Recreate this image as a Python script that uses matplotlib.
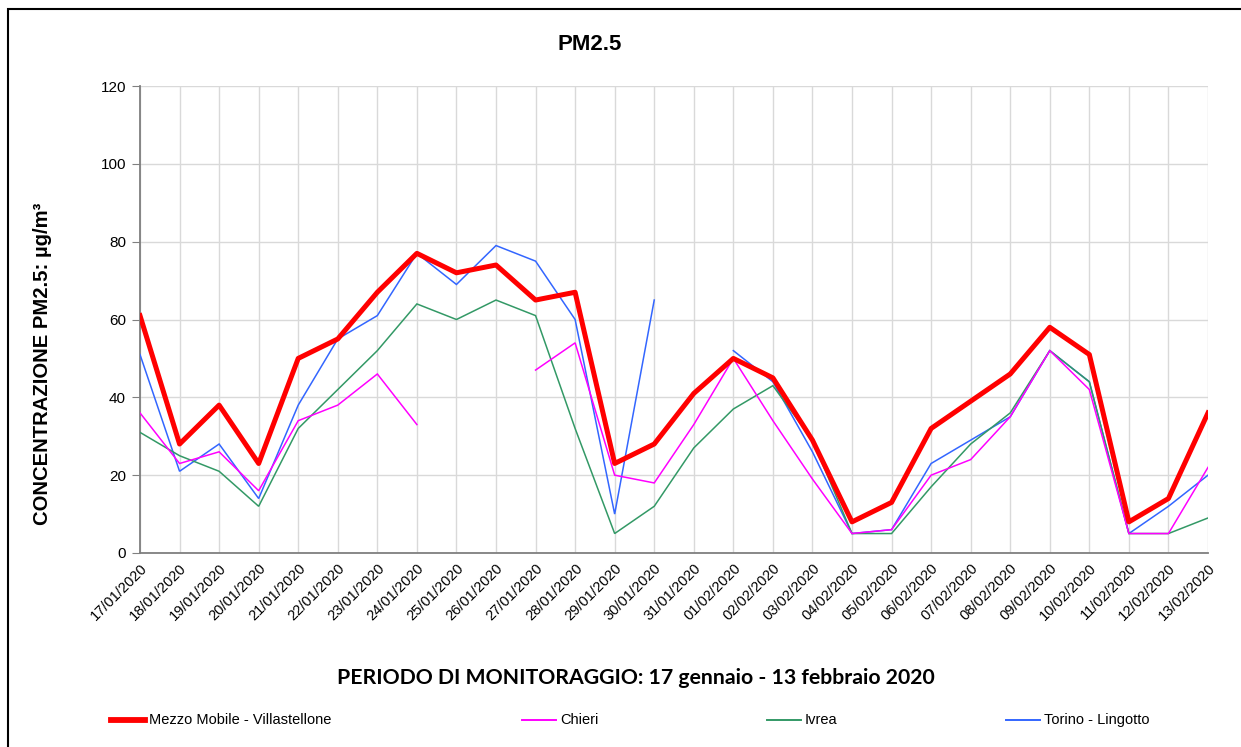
import matplotlib
matplotlib.use("Agg")
import matplotlib.pyplot as plt
from matplotlib.lines import Line2D
from matplotlib.patches import Rectangle
import numpy as np

plt.rcParams['font.family'] = ['Liberation Sans', 'DejaVu Sans']

dates = ["17/01/2020", "18/01/2020", "19/01/2020", "20/01/2020", "21/01/2020",
         "22/01/2020", "23/01/2020", "24/01/2020", "25/01/2020", "26/01/2020",
         "27/01/2020", "28/01/2020", "29/01/2020", "30/01/2020", "31/01/2020",
         "01/02/2020", "02/02/2020", "03/02/2020", "04/02/2020", "05/02/2020",
         "06/02/2020", "07/02/2020", "08/02/2020", "09/02/2020", "10/02/2020",
         "11/02/2020", "12/02/2020", "13/02/2020"]

villastellone = [61, 28, 38, 23, 50, 55, 67, 77, 72, 74, 65, 67, 23, 28, 41,
                 50, 45, 29, 8, 13, 32, 39, 46, 58, 51, 8, 14, 36]
chieri = [36, 23, 26, 16, 34, 38, 46, 33, None, None, 47, 54, 20, 18, 33,
          50, 34, 19, 5, 6, 20, 24, 35, 52, 42, 5, 5, 22]
ivrea = [31, 25, 21, 12, 32, 42, 52, 64, 60, 65, 61, 32, 5, 12, 27,
         37, 43, 29, 5, 5, 17, 28, 36, 52, 44, 5, 5, 9]
torino = [51, 21, 28, 14, 38, 55, 61, 77, 69, 79, 75, 60, 10, 65, None,
          52, 44, 26, 5, 6, 23, 29, 35, 52, 44, 5, 12, 20]

series_names = ["Mezzo Mobile - Villastellone", "Chieri", "Ivrea", "Torino - Lingotto"]
colors = ["#FF0000", "#FF00FF", "#339966", "#3366FF"]
widths = [3.6, 1.1, 1.1, 1.1]

def arr(v):
    return np.array([np.nan if x is None else x for x in v], dtype=float)

W, H = 1241, 747
fig = plt.figure(figsize=(W / 100, H / 100), dpi=100)
ax = fig.add_axes([140 / W, 1 - 553 / H, (1208 - 140) / W, (553 - 86) / H])

x = np.arange(len(dates))
data = [villastellone, chieri, ivrea, torino]
order = [3, 2, 1, 0]
for i in order:
    ax.plot(x, arr(data[i]), color=colors[i], lw=widths[i], zorder=3 + (i == 0),
            solid_joinstyle='miter' if i else 'round')

ax.set_xlim(0, len(dates) - 1)
ax.set_ylim(0, 120)
ax.set_yticks(np.arange(0, 121, 20))
ax.set_xticks(x)
ax.set_xticklabels(dates, rotation=45, ha='right', va='top', rotation_mode='anchor', fontsize=10.5)
ax.tick_params(axis='y', labelsize=11, length=6, color='#808080', pad=4)
ax.tick_params(axis='x', length=0, pad=6)
ax.grid(True, color='#D9D9D9', lw=1.0)
ax.set_axisbelow(True)
for s in ['top', 'right']:
    ax.spines[s].set_visible(False)
for s in ['left', 'bottom']:
    ax.spines[s].set_color('#7F7F7F')
    ax.spines[s].set_linewidth(1.3)

fig.text(590 / W, 1 - 45 / H, "PM2.5", ha='center', va='center', fontsize=16, fontweight='bold')
fig.text(42 / W, 1 - 364 / H, "CONCENTRAZIONE PM2.5: µg/m³", rotation=90, ha='center', va='center',
         fontsize=14.6, fontweight='bold')
fig.text(636 / W, 1 - 678 / H, "PERIODO DI MONITORAGGIO: 17 gennaio - 13 febbraio 2020",
         ha='center', va='center', fontsize=15.3, fontweight='bold', family=['Lato', 'DejaVu Sans'])

# legend
leg_x = [111, 522, 767, 1006]
ly = 1 - 720 / H
for i in range(4):
    fig.add_artist(Line2D([leg_x[i] / W, (leg_x[i] + 34) / W], [ly, ly], color=colors[i],
                          lw=widths[i] + (0.6 if i == 0 else 0.3)))
    fig.text((leg_x[i] + 38) / W, ly, series_names[i], ha='left', va='center', fontsize=10.5)

# outer frame
fig.add_artist(Rectangle((8 / W, -0.05), 1.1, 1 - 9 / H + 0.05, transform=fig.transFigure,
                         fill=False, edgecolor='black', lw=1.5, clip_on=False))

fig.savefig("out.png", dpi=100)
